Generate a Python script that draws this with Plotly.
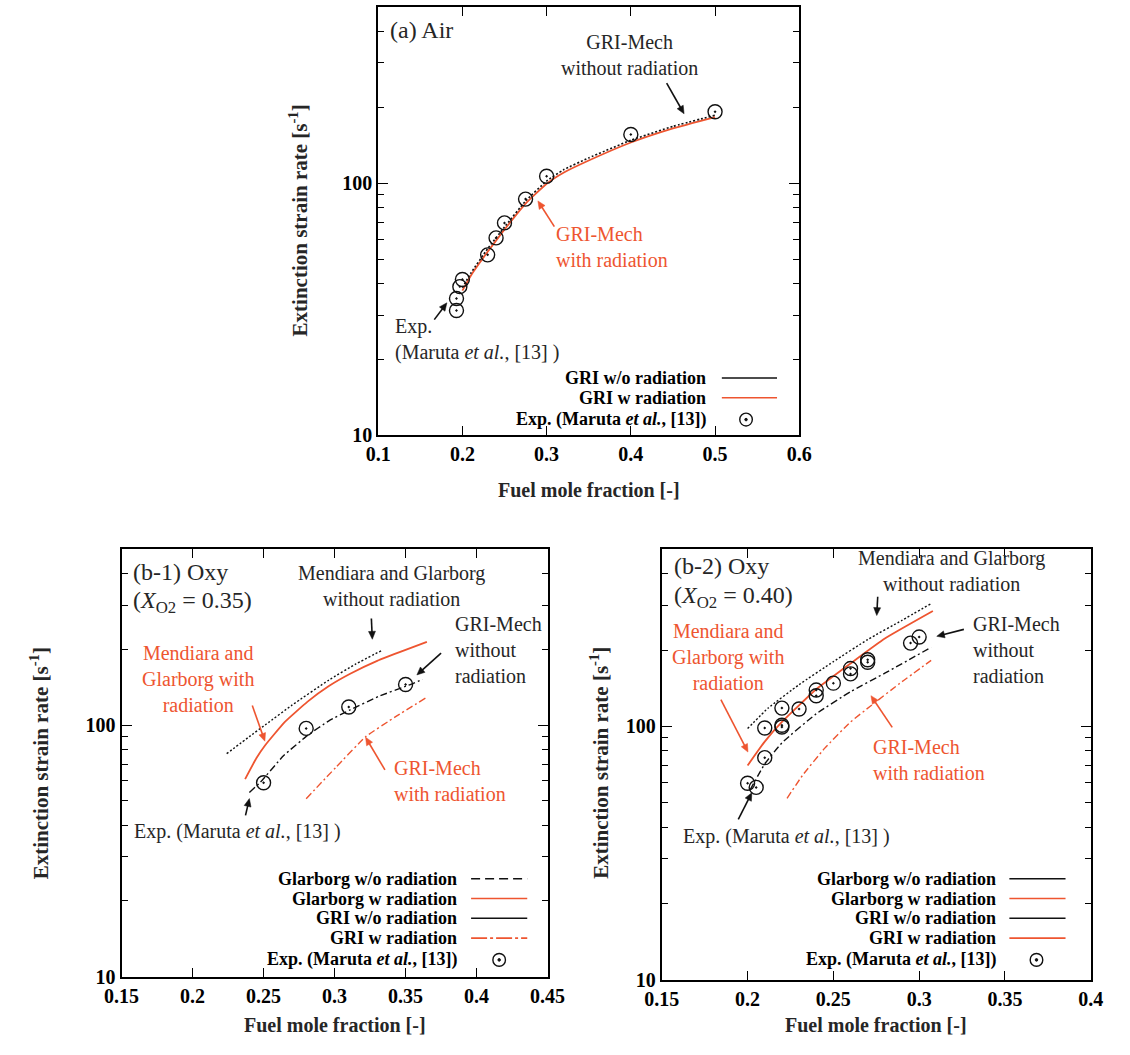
import math
import plotly.graph_objects as go

W, H = 1130, 1055
RED = '#ee5530'
BLK = '#111111'
TXT = '#262626'
SERIF = 'Liberation Serif'

# ---------------- data: panel (a) Air ----------------
a_exp_x = [0.193, 0.193, 0.197, 0.200, 0.230, 0.240, 0.250, 0.275, 0.300, 0.400, 0.500]
a_exp_y = [31.3, 34.9, 38.9, 41.5, 52.0, 60.7, 69.6, 86.5, 106.6, 156.0, 192.0]
a_gri_x = [0.200, 0.210, 0.230, 0.250, 0.275, 0.300, 0.320, 0.350, 0.400, 0.450, 0.500]
a_gri_wo_y = [38.5, 44.0, 55.0, 67.0, 85.0, 102.0, 113.0, 126.0, 148.0, 168.0, 186.0]
a_gri_w_y = [37.5, 43.0, 53.5, 65.5, 83.0, 99.5, 110.0, 123.0, 145.0, 165.0, 183.0]

# ---------------- data: panel (b-1) Oxy X_O2 = 0.35 ----------------
b1_exp_x = [0.250, 0.280, 0.310, 0.350]
b1_exp_y = [59.0, 97.0, 118.0, 145.0]
b1_glar_wo_x = [0.224, 0.240, 0.252, 0.270, 0.296, 0.315, 0.334]
b1_glar_wo_y = [77.0, 90.0, 101.0, 120.0, 151.0, 175.0, 199.0]
b1_glar_w_x = [0.237, 0.245, 0.251, 0.265, 0.281, 0.296, 0.311, 0.330, 0.350, 0.365]
b1_glar_w_y = [61.0, 74.0, 83.0, 103.0, 124.0, 143.0, 160.0, 180.0, 199.0, 214.0]
b1_gri_wo_x = [0.240, 0.248, 0.264, 0.281, 0.296, 0.311, 0.331, 0.352, 0.362]
b1_gri_wo_y = [54.0, 59.5, 75.5, 91.0, 104.0, 115.0, 130.0, 144.0, 152.0]
b1_gri_w_x = [0.280, 0.301, 0.322, 0.343, 0.364]
b1_gri_w_y = [51.0, 68.0, 90.0, 108.0, 128.0]

# ---------------- data: panel (b-2) Oxy X_O2 = 0.40 ----------------
b2_exp_x = [0.200, 0.205, 0.210, 0.210, 0.220, 0.220, 0.220, 0.230, 0.240, 0.240,
            0.250, 0.260, 0.260, 0.270, 0.270, 0.295, 0.300]
b2_exp_y = [59.6, 57.4, 75.2, 98.5, 99.4, 101.0, 118.0, 117.0, 132.0, 139.0,
            148.0, 161.0, 169.0, 179.0, 183.0, 213.0, 225.0]
b2_glar_wo_x = [0.200, 0.212, 0.230, 0.250, 0.270, 0.290, 0.307]
b2_glar_wo_y = [98.0, 118.0, 146.0, 180.0, 220.0, 262.0, 305.0]
b2_glar_w_x = [0.200, 0.210, 0.220, 0.240, 0.260, 0.280, 0.308]
b2_glar_w_y = [70.0, 87.0, 104.0, 140.0, 177.0, 222.0, 285.0]
b2_gri_wo_x = [0.2014, 0.210, 0.220, 0.240, 0.260, 0.280, 0.307]
b2_gri_wo_y = [56.0, 71.0, 86.0, 112.0, 137.0, 162.0, 205.0]
b2_gri_w_x = [0.223, 0.232, 0.245, 0.260, 0.2715, 0.290, 0.307]
b2_gri_w_y = [52.0, 64.0, 82.0, 104.0, 120.0, 150.0, 182.0]

# tick labels
a_xticks = [0.1, 0.2, 0.3, 0.4, 0.5, 0.6]
a_xticktext = ['0.1', '0.2', '0.3', '0.4', '0.5', '0.6']
b1_xticks = [0.15, 0.2, 0.25, 0.3, 0.35, 0.4, 0.45]
b1_xticktext = ['0.15', '0.2', '0.25', '0.3', '0.35', '0.4', '0.45']
b2_xticks = [0.15, 0.2, 0.25, 0.3, 0.35, 0.4]
b2_xticktext = ['0.15', '0.2', '0.25', '0.3', '0.35', '0.4']
y_major = [10, 100]
y_major_text = ['10', '100']
y_minor = [20, 30, 40, 50, 60, 70, 80, 90, 200, 300, 400]

# ---------------- layout geometry (pixels) ----------------
PANELS = {
    'a': (372, 807, 7, 440),
    'b1': (107, 547, 555, 987),
    'b2': (665, 1108, 555, 990),
}


def px(x):
    return x / W


def py(y):
    return 1 - y / H


fig = go.Figure()


def add_line(x, y, ax, color, dash, width=1.6):
    fig.add_trace(go.Scatter(
        x=x, y=y, xaxis='x' + ax, yaxis='y' + ax, mode='lines',
        line=dict(color=color, dash=dash, width=width, shape='spline', smoothing=0.4),
        showlegend=False, hoverinfo='skip'))


def add_exp(x, y, ax):
    fig.add_trace(go.Scatter(
        x=x, y=y, xaxis='x' + ax, yaxis='y' + ax, mode='markers',
        marker=dict(symbol='circle-open-dot', size=14, color=BLK, line=dict(width=1.4, color=BLK)),
        showlegend=False, hoverinfo='skip'))


DOT = '2px,2px'
DASHDOT = '7px,3px,2px,3px'

# panel a
add_line(a_gri_x, a_gri_w_y, '', RED, 'solid', 1.8)
add_line(a_gri_x, a_gri_wo_y, '', BLK, DOT, 1.6)
add_exp(a_exp_x, a_exp_y, '')

# panel b1
add_line(b1_glar_wo_x, b1_glar_wo_y, '2', BLK, DOT, 1.4)
add_line(b1_glar_w_x, b1_glar_w_y, '2', RED, 'solid', 1.8)
add_line(b1_gri_wo_x, b1_gri_wo_y, '2', BLK, DASHDOT, 1.4)
add_line(b1_gri_w_x, b1_gri_w_y, '2', RED, DASHDOT, 1.4)
add_exp(b1_exp_x, b1_exp_y, '2')

# panel b2
add_line(b2_glar_wo_x, b2_glar_wo_y, '3', BLK, DOT, 1.4)
add_line(b2_glar_w_x, b2_glar_w_y, '3', RED, 'solid', 1.8)
add_line(b2_gri_wo_x, b2_gri_wo_y, '3', BLK, DASHDOT, 1.4)
add_line(b2_gri_w_x, b2_gri_w_y, '3', RED, DASHDOT, 1.4)
add_exp(b2_exp_x, b2_exp_y, '3')

TICKFONT = dict(family=SERIF, size=20, color='black', weight='bold')


def xaxis(panel, rng, vals, text, anchor):
    x0, x1, y0, y1 = PANELS[panel]
    return dict(domain=[px(x0), px(x1)], range=rng, tickvals=vals, ticktext=text,
                ticks='inside', ticklen=9, tickwidth=1.4, tickcolor='black',
                showline=True, linewidth=2, linecolor='black', mirror='ticks',
                showgrid=False, zeroline=False, anchor=anchor, tickfont=TICKFONT,
                fixedrange=True)


def yaxis(panel, anchor):
    x0, x1, y0, y1 = PANELS[panel]
    return dict(domain=[py(y1), py(y0)], type='log', range=[1, math.log10(500)],
                tickvals=y_major, ticktext=y_major_text,
                ticks='inside', ticklen=10, tickwidth=1.4, tickcolor='black',
                minor=dict(tickvals=y_minor, ticks='inside', ticklen=6, tickwidth=1.2, tickcolor='black'),
                showline=True, linewidth=2, linecolor='black', mirror='ticks',
                showgrid=False, zeroline=False, anchor=anchor, tickfont=TICKFONT,
                fixedrange=True)


annotations = []
shapes = []
ANN = 20  # annotation font size
LEG = 18  # legend font size


def text(x, y, s, size=ANN, color=TXT, xanchor='left', align='left', angle=0, bold=False):
    annotations.append(dict(x=px(x), y=py(y), xref='paper', yref='paper', text=s,
                            showarrow=False, xanchor=xanchor, yanchor='middle', align=align,
                            textangle=angle,
                            font=dict(family=SERIF, size=size, color=color,
                                      weight='bold' if bold else 'normal')))


def arrow(tail, tip, color=BLK):
    # shaft
    tx, ty = tail
    hx, hy = tip
    L = math.hypot(hx - tx, hy - ty)
    dx, dy = (hx - tx) / L, (hy - ty) / L
    hl, hw = 8.0, 3.6
    bx, by = hx - dx * hl, hy - dy * hl
    shapes.append(dict(type='line', xref='paper', yref='paper',
                       x0=px(tx), y0=py(ty), x1=px(bx + dx * 1.5), y1=py(by + dy * 1.5),
                       line=dict(color=color, width=1.6)))
    nx, ny = -dy, dx
    p1 = (bx + nx * hw, by + ny * hw)
    p2 = (bx - nx * hw, by - ny * hw)
    path = 'M {:.5f} {:.5f} L {:.5f} {:.5f} L {:.5f} {:.5f} Z'.format(
        px(hx), py(hy), px(p1[0]), py(p1[1]), px(p2[0]), py(p2[1]))
    shapes.append(dict(type='path', xref='paper', yref='paper', path=path,
                       fillcolor=color, line=dict(color=color, width=0.5)))


def legend_line(x0, x1, y, color, dash='solid', width=1.6):
    shapes.append(dict(type='line', xref='paper', yref='paper', x0=px(x0), x1=px(x1),
                       y0=py(y), y1=py(y), line=dict(color=color, width=width, dash=dash)))


def legend_marker(cx, cy):
    r = 6.5
    shapes.append(dict(type='circle', xref='paper', yref='paper', x0=px(cx - r), x1=px(cx + r),
                       y0=py(cy + r), y1=py(cy - r), line=dict(color=BLK, width=1.4)))
    r2 = 1.3
    shapes.append(dict(type='circle', xref='paper', yref='paper', x0=px(cx - r2), x1=px(cx + r2),
                       y0=py(cy + r2), y1=py(cy - r2), line=dict(color=BLK, width=1), fillcolor=BLK))


YT = 'Extinction strain rate [s<sup>-1</sup>]'
XT = 'Fuel mole fraction [-]'
EXP_LEG = 'Exp. (Maruta <i>et al.</i>, [13])'

# ---- panel a texts ----
text(382, 30, '(a) Air', size=24)
text(632, 56, 'GRI-Mech<br>without radiation', xanchor='center', align='center')
arrow((670, 84), (688, 115))
text(554, 250, 'GRI-Mech<br>with radiation', color=RED)
arrow((554, 229), (537, 203), RED)
text(387, 343, 'Exp.<br>(Maruta <i>et al.</i>, [13] )')
arrow((430, 323), (443, 306))
text(290, 223, YT, size=21, xanchor='center', align='center', angle=-90, bold=True)
text(590, 495, XT, size=20, xanchor='center', align='center', bold=True)
for yy, lab in zip([382, 402, 424], ['GRI w/o radiation', 'GRI w radiation', EXP_LEG]):
    text(713, yy, lab, size=LEG, color='black', xanchor='right', align='right', bold=True)
legend_line(727, 784, 382, BLK)
legend_line(727, 784, 402, RED)
legend_marker(752, 424)

# ---- panel b1 texts ----
text(117, 578, '(b-1) Oxy', size=24)
text(117, 608, '(<i>X</i><sub>O2</sub> = 0.35)', size=24)
text(386, 592, 'Mendiara and Glarborg<br>without radiation', xanchor='center', align='center')
arrow((365, 625), (366, 646))
text(449, 657, 'GRI-Mech<br>without<br>radiation')
arrow((437, 660), (412, 682))
text(186, 686, 'Mendiara and<br>Glarborg with<br>radiation', color=RED, xanchor='center', align='center')
arrow((242, 713), (255, 749), RED)
text(386, 789, 'GRI-Mech<br>with radiation', color=RED)
arrow((379, 778), (359, 745), RED)
text(118, 840, 'Exp. (Maruta <i>et al.</i>, [13] )')
arrow((235, 824), (239, 807))
text(23, 771, YT, size=21, xanchor='center', align='center', angle=-90, bold=True)
text(327, 1036, XT, size=20, xanchor='center', align='center', bold=True)
b_rows = [888, 908, 928, 948, 970]
b_labels = ['Glarborg w/o radiation', 'Glarborg w radiation', 'GRI w/o radiation',
            'GRI w radiation', EXP_LEG]
for yy, lab in zip(b_rows, b_labels):
    text(455, yy, lab, size=LEG, color='black', xanchor='right', align='right', bold=True)
legend_line(468, 526, b_rows[0], BLK, '9px,5px')
legend_line(468, 526, b_rows[1], RED)
legend_line(468, 526, b_rows[2], BLK)
legend_line(468, 526, b_rows[3], RED, '16px,3px,3px,3px')
legend_marker(497, b_rows[4])

# ---- panel b2 texts ----
text(676, 572, '(b-2) Oxy', size=24)
text(676, 603, '(<i>X</i><sub>O2</sub> = 0.40)', size=24)
text(964, 577, 'Mendiara and Glarborg<br>without radiation', xanchor='center', align='center')
arrow((888, 603), (887, 622))
text(984, 657, 'GRI-Mech<br>without<br>radiation')
arrow((977, 636), (949, 643))
text(733, 664, 'Mendiara and<br>Glarborg with<br>radiation', color=RED, xanchor='center', align='center')
arrow((726, 707), (754, 760), RED)
text(881, 768, 'GRI-Mech<br>with radiation', color=RED)
arrow((903, 735), (881, 703), RED)
text(685, 845, 'Exp. (Maruta <i>et al.</i>, [13] )')
arrow((744, 828), (758, 801))
text(601, 771, YT, size=21, xanchor='center', align='center', angle=-90, bold=True)
text(886, 1036, XT, size=20, xanchor='center', align='center', bold=True)
for yy, lab in zip(b_rows, b_labels):
    text(1012, yy, lab, size=LEG, color='black', xanchor='right', align='right', bold=True)
legend_line(1024, 1082, b_rows[0], BLK)
legend_line(1024, 1082, b_rows[1], RED)
legend_line(1024, 1082, b_rows[2], BLK)
legend_line(1024, 1082, b_rows[3], RED)
legend_marker(1052, b_rows[4])

fig.update_layout(
    width=W, height=H, margin=dict(l=0, r=0, t=0, b=0),
    paper_bgcolor='white', plot_bgcolor='white', showlegend=False,
    xaxis=xaxis('a', [0.1, 0.6], a_xticks, a_xticktext, 'y'),
    yaxis=yaxis('a', 'x'),
    xaxis2=xaxis('b1', [0.15, 0.45], b1_xticks, b1_xticktext, 'y2'),
    yaxis2=yaxis('b1', 'x2'),
    xaxis3=xaxis('b2', [0.15, 0.4], b2_xticks, b2_xticktext, 'y3'),
    yaxis3=yaxis('b2', 'x3'),
    annotations=annotations, shapes=shapes,
)

fig.write_html('out.html', config={'displayModeBar': False},
               post_script="document.body.style.margin='0px';")
